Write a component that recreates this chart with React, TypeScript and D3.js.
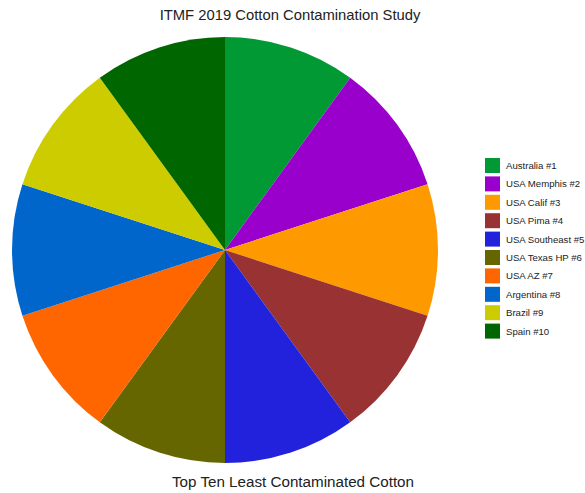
import React from "react";
import * as d3 from "d3";

const categories = [
  "Australia #1",
  "USA Memphis #2",
  "USA Calif #3",
  "USA Pima #4",
  "USA Southeast #5",
  "USA Texas HP #6",
  "USA AZ #7",
  "Argentina #8",
  "Brazil #9",
  "Spain #10",
];
const values = [1, 1, 1, 1, 1, 1, 1, 1, 1, 1];
const colors = [
  "#009933",
  "#9900cc",
  "#ff9900",
  "#993333",
  "#2222dd",
  "#666600",
  "#ff6600",
  "#0066cc",
  "#cccc00",
  "#006600",
];
const title = "ITMF 2019 Cotton Contamination Study";
const subtitle = "Top Ten Least Contaminated Cotton";

const W = 585;
const H = 493;
const cx = 225;
const cy = 250;
const R = 213;

export default function App() {
  const data = categories.map((c, i) => ({ name: c, value: values[i], color: colors[i] }));
  const pie = d3.pie<any>().sort(null).value((d: any) => d.value);
  const arc = d3.arc<any>().innerRadius(0).outerRadius(R);
  const arcs = pie(data);
  const font = "'Liberation Sans', Arial, sans-serif";

  return (
    <svg
      width={W}
      height={H}
      style={{ position: "absolute", left: 0, top: 0, background: "#fff" }}
    >
      <text x={290} y={20} textAnchor="middle" fontFamily={font} fontSize={14.8} fill="#222">
        {title}
      </text>
      <g transform={`translate(${cx},${cy})`}>
        {arcs.map((a, i) => (
          <path key={i} d={arc(a) as string} fill={a.data.color} />
        ))}
      </g>
      <text x={293} y={487} textAnchor="middle" fontFamily={font} fontSize={15.2} fill="#222">
        {subtitle}
      </text>
      <g transform="translate(485,158)">
        {data.map((d, i) => (
          <g key={i} transform={`translate(0,${i * 18.4})`}>
            <rect x={0} y={0} width={15} height={15} fill={d.color} />
            <text x={21} y={11} fontFamily={font} fontSize={9.6} fill="#222">
              {d.name}
            </text>
          </g>
        ))}
      </g>
    </svg>
  );
}
